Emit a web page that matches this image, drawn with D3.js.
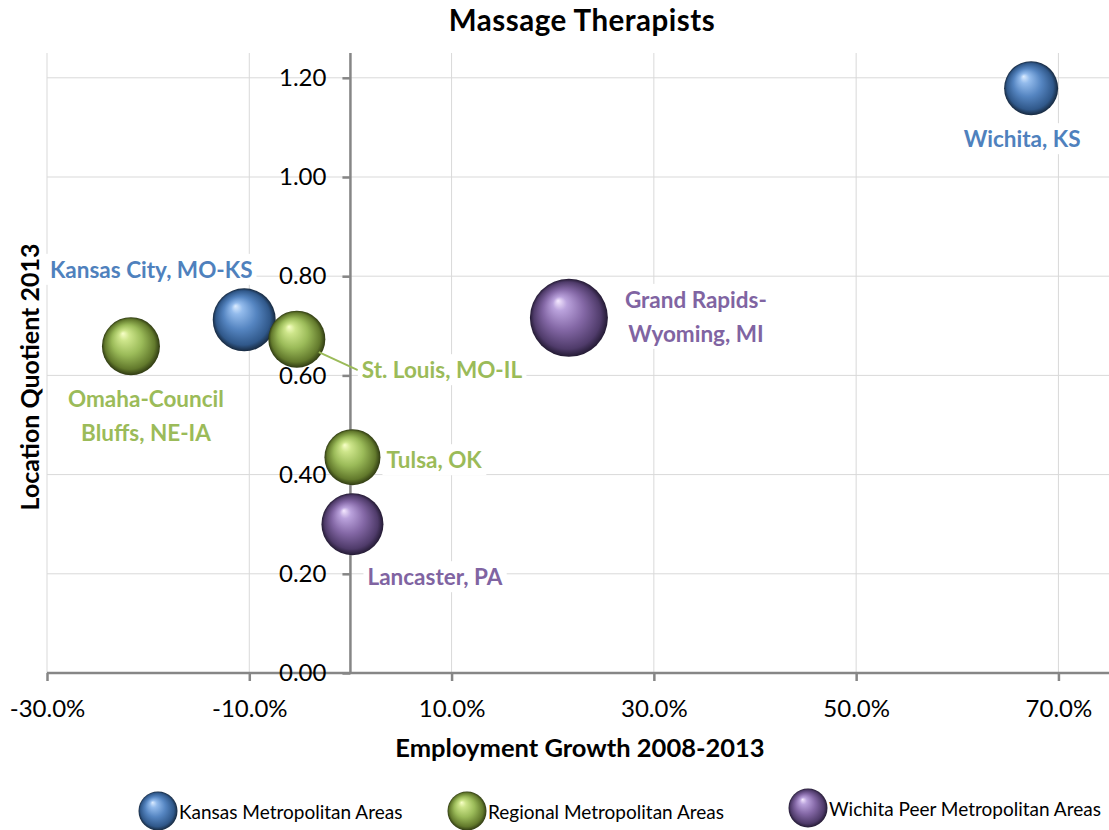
<!DOCTYPE html>
<html>
<head>
<meta charset="utf-8">
<script src="https://cdn.jsdelivr.net/npm/d3@7"></script>
<style>
  body { margin: 0; background: #fff; }
  svg { display: block; font-family: Lato, "Open Sans", sans-serif; }
</style>
</head>
<body>
<div id="my_dataviz"></div>
<script>
// data
var areas   = ["Wichita, KS", "Kansas City, MO-KS", "Omaha-Council Bluffs, NE-IA", "St. Louis, MO-IL",
               "Tulsa, OK", "Lancaster, PA", "Grand Rapids-Wyoming, MI"];
var groups  = ["kansas", "kansas", "regional", "regional", "regional", "peer", "peer"];
var growth  = [0.673, -0.105, -0.217, -0.053, 0.002, 0.002, 0.216];
var lq      = [1.179, 0.712, 0.659, 0.673, 0.435, 0.300, 0.716];
var bubble  = [729, 992, 841, 812, 784, 961, 1521];

var groupNames  = ["Kansas Metropolitan Areas", "Regional Metropolitan Areas", "Wichita Peer Metropolitan Areas"];
var groupKeys   = ["kansas", "regional", "peer"];
var xTicks = [-0.3, -0.1, 0.1, 0.3, 0.5, 0.7];
var yTicks = [0, 0.2, 0.4, 0.6, 0.8, 1.0, 1.2];

var colors = { kansas: "#4f81bd", regional: "#9bbb59", peer: "#8064a2" };
var shades = {
  kansas:   ["#dcecff", "#93bbec", "#5585c1", "#30588a", "#17293f"],
  regional: ["#f8ffc8", "#cde58a", "#9bbb59", "#62792c", "#2f3a12"],
  peer:     ["#f5e9ff", "#baa2dc", "#8468a6", "#4f3b6a", "#231a33"]
};

// set the dimensions and margins of the graph
var W = 1109, H = 830;
var margin = {top: 53, right: 0, bottom: 157, left: 47},
    width = W - margin.left - margin.right,
    height = H - margin.top - margin.bottom;

var svg = d3.select("#my_dataviz")
  .append("svg")
    .attr("width", W)
    .attr("height", H);

var defs = svg.append("defs");
groupKeys.forEach(function(k) {
  var g = defs.append("radialGradient")
    .attr("id", "ball-" + k)
    .attr("cx", "50%").attr("cy", "50%").attr("r", "50%")
    .attr("fx", "36%").attr("fy", "28%");
  var s = shades[k];
  [[0, s[0]], [0.18, s[1]], [0.52, s[2]], [0.86, s[3]], [1, s[4]]].forEach(function(st) {
    g.append("stop").attr("offset", st[0]).attr("stop-color", st[1]);
  });
});

var chart = svg.append("g")
  .attr("transform", "translate(" + margin.left + "," + margin.top + ")");

var x = d3.scaleLinear().domain([-0.3, 0.75]).range([0, width]);
var y = d3.scaleLinear().domain([0, 1.25]).range([height, 0]);
var r = d3.scaleSqrt().domain([0, 1521]).range([0, 39]);

// gridlines
chart.append("g")
  .selectAll("line.h")
  .data(yTicks.filter(function(d) { return d > 0; }))
  .enter().append("line")
    .attr("x1", 0).attr("x2", width)
    .attr("y1", function(d) { return y(d); })
    .attr("y2", function(d) { return y(d); })
    .attr("stroke", "#d9d9d9").attr("stroke-width", 1);
chart.append("g")
  .selectAll("line.v")
  .data(xTicks)
  .enter().append("line")
    .attr("x1", function(d) { return x(d); })
    .attr("x2", function(d) { return x(d); })
    .attr("y1", 0).attr("y2", height)
    .attr("stroke", "#d9d9d9").attr("stroke-width", 1);

// axes
var xAxis = chart.append("g")
  .attr("transform", "translate(0," + y(0) + ")")
  .call(d3.axisBottom(x).tickValues(xTicks).tickSize(8).tickSizeOuter(0).tickPadding(19)
    .tickFormat(function(d) { return (d * 100).toFixed(1) + "%"; }));
var yAxis = chart.append("g")
  .attr("transform", "translate(" + x(0) + ",0)")
  .call(d3.axisLeft(y).tickValues(yTicks).tickSize(8).tickSizeOuter(0).tickPadding(16)
    .tickFormat(d3.format(".2f")));
[xAxis, yAxis].forEach(function(a) {
  a.select(".domain").attr("stroke", "#868686").attr("stroke-width", 2.5);
  a.selectAll(".tick line").attr("stroke", "#868686").attr("stroke-width", 2.5);
  a.selectAll(".tick text").attr("fill", "#000").style("font-size", "24px")
    .style("font-family", "Lato, sans-serif");
});
yAxis.select(".domain").attr("d", "M0," + height + "V0");
xAxis.select(".domain").attr("d", "M0,0H" + width);

// bubbles
var data = areas.map(function(a, i) {
  return {name: a, group: groups[i], gx: growth[i], lq: lq[i], size: bubble[i]};
});

chart.append("g")
  .selectAll("circle")
  .data(data)
  .enter().append("circle")
    .attr("cx", function(d) { return x(d.gx); })
    .attr("cy", function(d) { return y(d.lq); })
    .attr("r", function(d) { return r(d.size); })
    .attr("fill", function(d) { return "url(#ball-" + d.group + ")"; });

// data labels, offsets from bubble centre
var labelPos = {
  "Wichita, KS":                 {lines: ["Wichita, KS"], dx: -9, dy: 59, anchor: "middle"},
  "Kansas City, MO-KS":          {lines: ["Kansas City, MO-KS"], dx: -93, dy: -42, anchor: "middle"},
  "Omaha-Council Bluffs, NE-IA": {lines: ["Omaha-Council", "Bluffs, NE-IA"], dx: 15, dy: 61, anchor: "middle"},
  "St. Louis, MO-IL":            {lines: ["St. Louis, MO-IL"], dx: 65, dy: 39, anchor: "start", leader: true},
  "Tulsa, OK":                   {lines: ["Tulsa, OK"], dx: 34, dy: 11, anchor: "start"},
  "Lancaster, PA":               {lines: ["Lancaster, PA"], dx: 15, dy: 61, anchor: "start"},
  "Grand Rapids-Wyoming, MI":    {lines: ["Grand Rapids-", "Wyoming, MI"], dx: 127, dy: -10, anchor: "middle"}
};

var labels = chart.append("g");
data.forEach(function(d) {
  var p = labelPos[d.name];
  var cx = x(d.gx), cy = y(d.lq);
  if (p.leader) {
    labels.append("line")
      .attr("x1", cx + 22).attr("y1", cy + 13)
      .attr("x2", cx + p.dx - 4).attr("y2", cy + p.dy - 8)
      .attr("stroke", colors[d.group]).attr("stroke-width", 2);
  }
  var g = labels.append("g");
  var t = g.append("text")
    .attr("text-anchor", p.anchor)
    .attr("fill", colors[d.group])
    .style("font-size", "22.5px")
    .style("font-weight", "bold");
  p.lines.forEach(function(l, i) {
    t.append("tspan").attr("x", cx + p.dx).attr("y", cy + p.dy + i * 34).text(l);
  });
  var bb = t.node().getBBox();
  g.insert("rect", "text")
    .attr("x", bb.x - 4).attr("y", bb.y - 2)
    .attr("width", bb.width + 8).attr("height", bb.height + 4)
    .attr("fill", "#fff");
});

// titles
svg.append("text")
  .attr("x", 582).attr("y", 31)
  .attr("text-anchor", "middle")
  .style("font-size", "29.5px").style("font-weight", "bold")
  .style("letter-spacing", "0.5px")
  .text("Massage Therapists");

svg.append("text")
  .attr("x", 580).attr("y", 757)
  .attr("text-anchor", "middle")
  .style("font-size", "25.5px").style("font-weight", "bold")
  .text("Employment Growth 2008-2013");

svg.append("text")
  .attr("transform", "translate(39,377) rotate(-90)")
  .attr("text-anchor", "middle")
  .style("font-size", "25px").style("font-weight", "bold")
  .text("Location Quotient 2013");

// legend
var legendX = [158, 467, 808];
var legendY = [811, 811, 808];
var legend = svg.append("g")
  .selectAll("g")
  .data(groupKeys)
  .enter().append("g")
    .attr("transform", function(d, i) { return "translate(" + legendX[i] + "," + legendY[i] + ")"; });
legend.append("circle")
  .attr("r", 19.5)
  .attr("fill", function(d) { return "url(#ball-" + d + ")"; });
legend.append("text")
  .attr("x", 21).attr("y", 8)
  .style("font-size", "19px")
  .text(function(d, i) { return groupNames[i]; });
</script>
</body>
</html>
